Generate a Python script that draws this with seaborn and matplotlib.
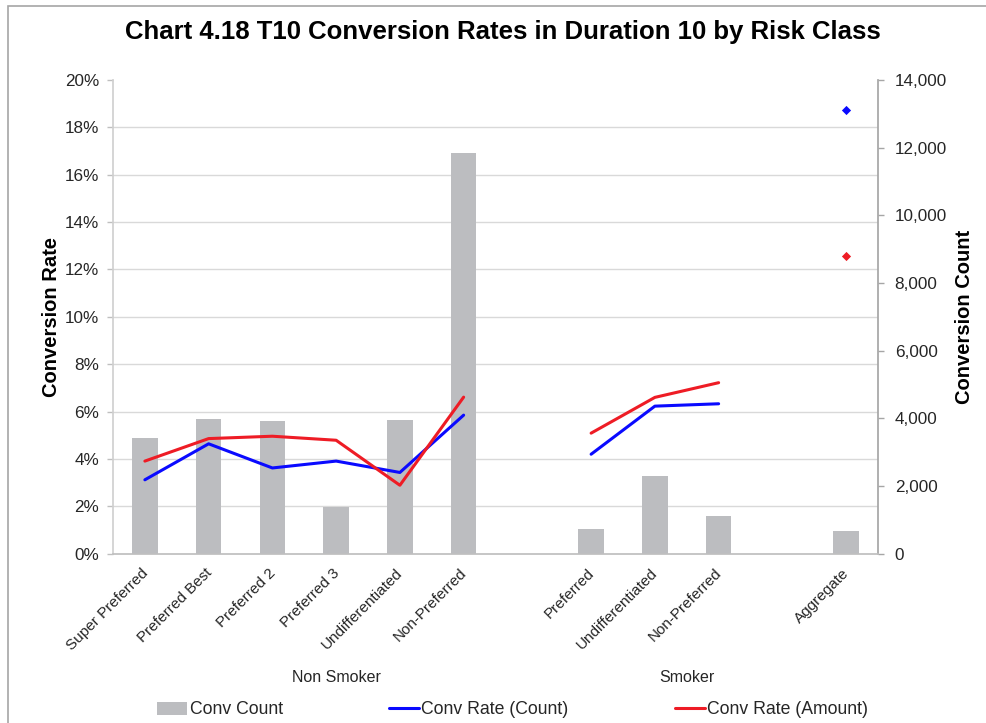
import matplotlib
matplotlib.use("Agg")
import matplotlib.pyplot as plt
from matplotlib.patches import Patch, Rectangle
from matplotlib.lines import Line2D
from matplotlib.ticker import MultipleLocator, PercentFormatter, FuncFormatter
from matplotlib.transforms import ScaledTranslation
import numpy as np
import pandas as pd
import seaborn as sns

# Category slots along the x axis (blank slots separate the groups)
risk_classes = ["Super Preferred", "Preferred Best", "Preferred 2", "Preferred 3",
                "Undifferentiated", "Non-Preferred", "",
                "Preferred", "Undifferentiated", "Non-Preferred", "",
                "Aggregate"]
smoker_groups = ["Non Smoker"] * 7 + ["Smoker"] * 4 + ["Total"]

# Conversion counts (right axis)
conv_count = [3430, 3970, 3910, 1390, 3950, 11850, None,
              720, 2310, 1100, None, 670]
# Conversion rates (left axis)
conv_rate_count = [0.0312, 0.0464, 0.0362, 0.0391, 0.0343, 0.0585, None,
                   0.0420, 0.0623, 0.0633, None, 0.1875]
conv_rate_amount = [0.0391, 0.0486, 0.0496, 0.0479, 0.0289, 0.0661, None,
                    0.0509, 0.0660, 0.0722, None, 0.1258]

df = pd.DataFrame({
    "slot": np.arange(len(risk_classes)),
    "risk_class": risk_classes,
    "group": smoker_groups,
    "count": conv_count,
    "rate_count": conv_rate_count,
    "rate_amount": conv_rate_amount,
}).dropna(subset=["count"])

sns.set_theme(style="white")
plt.rcParams["font.family"] = ["Liberation Sans", "DejaVu Sans"]

BAR = "#bcbdc0"
BLUE = "#0a0aff"
RED = "#ee1c25"
GRID = "#d9d9d9"
TXT = "#262626"

fig = plt.figure(figsize=(9.86, 7.23), dpi=100)
ax = fig.add_axes([113 / 986, 1 - 553.7 / 723, 765 / 986, 473.7 / 723])
ax2 = ax.twinx()

# Bars on the count axis, drawn underneath the rate lines
sns.barplot(data=df, x="slot", y="count", native_scale=True, width=0.4,
            color=BAR, saturation=1, errorbar=None, linewidth=0, ax=ax2)

# Rate lines, one segment per smoker group
for grp, sub in df.groupby("group", sort=False):
    if len(sub) > 1:
        sns.lineplot(data=sub, x="slot", y="rate_count", color=BLUE, lw=2.2,
                     ax=ax, legend=False)
        sns.lineplot(data=sub, x="slot", y="rate_amount", color=RED, lw=2.2,
                     ax=ax, legend=False)
    else:
        sns.scatterplot(data=sub, x="slot", y="rate_count", color=BLUE,
                        marker="D", s=22, linewidth=0, ax=ax, legend=False)
        sns.scatterplot(data=sub, x="slot", y="rate_amount", color=RED,
                        marker="D", s=22, linewidth=0, ax=ax, legend=False)

ax.set_zorder(ax2.get_zorder() + 1)
ax.patch.set_visible(False)

# Axes ranges and ticks
ax.set_xlim(-0.5, len(risk_classes) - 0.5)
ax.set_ylim(0, 0.20)
ax2.set_ylim(0, 14000)
ax.yaxis.set_major_locator(MultipleLocator(0.02))
ax.yaxis.set_major_formatter(PercentFormatter(1.0, decimals=0))
ax2.yaxis.set_major_locator(MultipleLocator(2000))
ax2.yaxis.set_major_formatter(FuncFormatter(lambda v, p: f"{v:,.0f}"))

# Horizontal grid aligned with the rate ticks, behind the bars
ax2.yaxis.set_minor_locator(MultipleLocator(1400))
ax2.grid(which="minor", axis="y", color=GRID, lw=1)
ax2.grid(which="major", visible=False)
ax.grid(False)
ax2.tick_params(axis="y", which="minor", length=0)

ax.set_xticks(df["slot"])
ax.set_xticklabels(df["risk_class"], rotation=45, ha="right",
                   rotation_mode="anchor", fontsize=11, color=TXT)
ax.tick_params(axis="x", length=0, pad=6)
shift = ScaledTranslation(-0.04, -0.04, fig.dpi_scale_trans)
for lbl in ax.get_xticklabels():
    lbl.set_transform(lbl.get_transform() + shift)
ax2.set_xlabel("")
ax.set_xlabel("")

ax.tick_params(axis="y", length=4, width=1, color="#bfbfbf", pad=6,
               labelsize=12.3, labelcolor=TXT)
ax2.tick_params(axis="y", which="major", length=4, width=1, color="#a6a6a6",
                pad=8, labelsize=12.3, labelcolor=TXT)

ax.set_ylabel("Conversion Rate", fontsize=14.5, fontweight="bold",
              color="black", labelpad=3)
ax2.set_ylabel("Conversion Count", fontsize=14.5, fontweight="bold",
               color="black", labelpad=6)

for a in (ax, ax2):
    a.spines["top"].set_visible(False)
ax.spines["left"].set_color("#d0d0d0")
ax.spines["right"].set_visible(False)
ax2.spines["left"].set_visible(False)
ax2.spines["right"].set_color("#a6a6a6")
ax.spines["bottom"].set_color("#bfbfbf")
ax2.spines["bottom"].set_visible(False)

# Group labels under the category labels
for grp, sub in pd.DataFrame({"slot": np.arange(len(risk_classes)),
                              "group": smoker_groups}).groupby("group", sort=False):
    if grp == "Total":
        continue
    ax.annotate(grp, xy=(sub["slot"].mean(), -0.262),
                xycoords=("data", "axes fraction"), ha="center", va="center",
                fontsize=11.5, color=TXT)

fig.suptitle("Chart 4.18 T10 Conversion Rates in Duration 10 by Risk Class",
             x=0.51, y=1 - 32 / 723, va="center", fontsize=18.5,
             fontweight="bold", color="black")

handles = [Patch(facecolor=BAR, edgecolor="none", label="Conv Count"),
           Line2D([], [], color=BLUE, lw=2.2, label="Conv Rate (Count)"),
           Line2D([], [], color=RED, lw=2.2, label="Conv Rate (Amount)")]
fig.legend(handles=handles, loc="center", bbox_to_anchor=(0.52, 1 - 710 / 723),
           ncol=3, frameon=False, fontsize=12.7, handlelength=1.7,
           handletextpad=0.15, columnspacing=6.0, labelcolor=TXT)

# Outer chart-area frame
fig.patches.append(Rectangle((8 / 986, -0.5), 2.0, 0.5 + 1 - 6 / 723,
                             transform=fig.transFigure, fill=False,
                             edgecolor="#a6a6a6", lw=1.2))

fig.savefig("out.png", dpi=100)
